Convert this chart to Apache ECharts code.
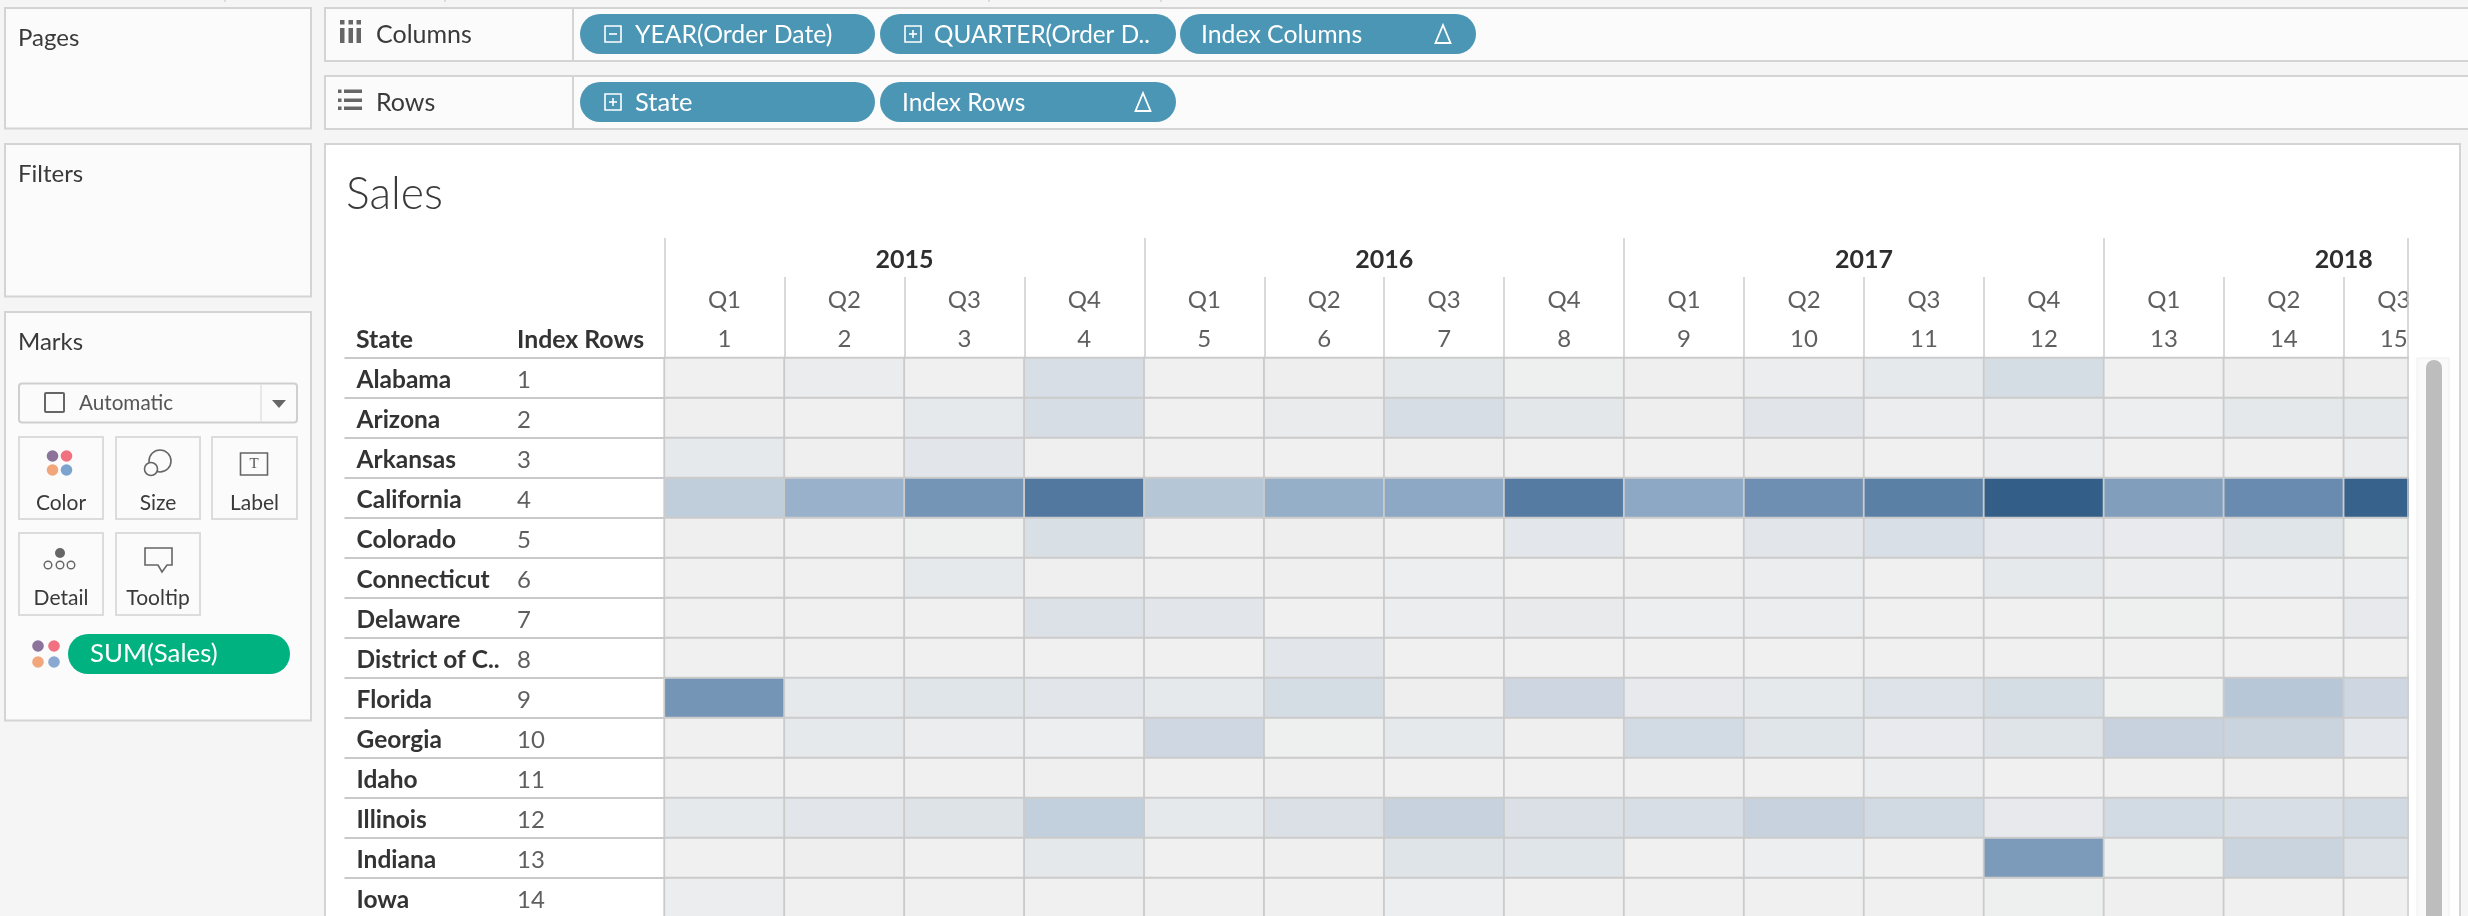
<!DOCTYPE html>
<html><head><meta charset="utf-8">
<style>html,body{margin:0;padding:0;background:#f5f5f5;overflow:hidden;width:2468px;height:916px}#c{width:2600px;height:930px}</style>
<script src="https://cdn.jsdelivr.net/npm/echarts@6/dist/echarts.min.js"></script>
</head><body><div id="c"></div>
<script>
// ---- data (SUM(Sales) per state) ----
const years = ['2015','2016','2017','2018'];
const quarters = ['Q1','Q2','Q3','Q4','Q1','Q2','Q3','Q4','Q1','Q2','Q3','Q4','Q1','Q2','Q3'];
const indexColumns = ['1','2','3','4','5','6','7','8','9','10','11','12','13','14','15'];
const states = ['Alabama','Arizona','Arkansas','California','Colorado','Connecticut','Delaware','District of C..','Florida','Georgia','Idaho','Illinois','Indiana','Iowa'];
const indexRows = ['1','2','3','4','5','6','7','8','9','10','11','12','13','14'];
const alabama     = [150,1700,100,7900,120,800,3600,500,450,1300,3200,8500,100,800,450];
const arizona     = [400,150,3200,8300,120,2300,8400,4200,700,4700,1200,2000,1100,3500,3400];
const arkansas    = [3100,350,4500,300,120,100,350,100,120,800,100,1300,90,80,1900];
const california  = [14500,23500,31000,39000,17000,24000,26000,38000,26000,32500,36500,50000,28500,33500,48500];
const colorado    = [400,120,600,7800,100,700,100,4300,60,4400,7500,3900,2500,5000,650];
const connecticut = [120,100,3200,300,110,350,1000,70,350,1500,60,3200,1500,1000,1000];
const delaware    = [100,120,110,6500,4400,130,1200,2600,1000,1300,90,120,500,130,3000];
const districtOfC = [110,90,120,80,100,4500,130,70,90,110,60,100,80,120,70];
const florida     = [31000,3200,5000,4500,3200,8500,700,11000,3000,3200,6000,9000,650,16500,11000];
const georgia     = [120,3200,1300,1000,10500,650,3200,250,9500,5000,2500,5500,13000,12500,4000];
const idaho       = [90,110,100,280,120,280,90,60,70,60,1300,70,60,350,70];
const illinois    = [3200,4500,5800,14000,3200,7000,13000,7000,8000,13000,10000,3000,9500,8000,10000];
const indiana     = [130,750,110,3500,90,300,5500,5000,60,1000,70,29500,650,12500,6800];
const iowa        = [1500,110,90,100,120,80,1000,60,70,60,50,650,300,70,60];
const stateRows = [alabama,arizona,arkansas,california,colorado,connecticut,delaware,districtOfC,florida,georgia,idaho,illinois,indiana,iowa];
const salesCells = [];
stateRows.forEach((row,r)=>row.forEach((v,c)=>salesCells.push([c,r,v])));

// ---- page chrome ----
const F='Lato, "Open Sans", sans-serif';
const BORDER='#d4d4d4', PANEL='#fbfbfb', PILL='#4b96b4', DARK='#3a3a3a';
const g=[];
const rect=(x,y,w,h,fill,stroke,lw,r,z)=>g.push({type:'rect',silent:true,z:z??-5,shape:{x,y,width:w,height:h,r:r||0},style:{fill:fill||'none',stroke:stroke||null,lineWidth:lw||0}});
const text=(t,x,y,size,fill,opt={})=>g.push({type:'text',silent:true,z:opt.z??-3,x,y,style:{text:t,fill,font:`${opt.weight||'normal'} ${size}px ${opt.family||F}`,align:opt.align||'left',verticalAlign:'middle'}});
const line=(x1,y1,x2,y2,c,w,z)=>g.push({type:'line',silent:true,z:z??-3,shape:{x1,y1,x2,y2},style:{stroke:c,lineWidth:w}});
const circle=(cx,cy,r,fill,stroke,lw,z)=>g.push({type:'circle',silent:true,z:z??-3,shape:{cx,cy,r},style:{fill:fill||'none',stroke:stroke||null,lineWidth:lw||0}});
const poly=(pts,fill,stroke,lw,z)=>g.push({type:'polygon',silent:true,z:z??-3,shape:{points:pts},style:{fill:fill||'none',stroke:stroke||null,lineWidth:lw||0}});

rect(0,0,2600,930,'#f5f5f5',null,0,0,-10);
[225,445,989,1161].forEach(x=>line(x,0,x,2,'#d4d4d4',1.5));
// left cards
rect(5,8,306,120.5,PANEL,BORDER,2);
rect(5,144,306,152.5,PANEL,BORDER,2);
rect(5,312,306,408.5,PANEL,BORDER,2);
text('Pages',18,38,24,DARK);
text('Filters',18,174,24,DARK);
text('Marks',18,342,24,DARK);
// shelves
rect(325,8,2200,53,PANEL,BORDER,2);
rect(325,76,2200,53,PANEL,BORDER,2);
line(573,8,573,61,BORDER,2);
line(573,76,573,129,BORDER,2);
text('Columns',376,35,25,DARK);
text('Rows',376,103,25,DARK);
// columns icon
[342,350.5,358.5].forEach(x=>{rect(x-2,28,4.5,15,'#666',null,0,0,-3);rect(x-2,20,4.5,4.5,'#666',null,0,0,-3);});
// rows icon
[91,100,108].forEach(y=>{rect(338,y-1.5,3.5,3.5,'#666',null,0,0,-3);rect(344,y-1.5,18,3.5,'#666',null,0,0,-3);});
// pills
const pill=(x,w,y,c)=>rect(x,y,w,40,c||PILL,null,0,20,-4);
pill(580,295,14);pill(880,296,14);pill(1180,296,14);
pill(580,295,82);pill(880,296,82);
const pillText=(t,x,y,s)=>text(t,x,y,s||24.8,'#fff');
pillText('YEAR(Order Date)',635,35);
pillText('QUARTER(Order D..',934,35,24.3);
pillText('Index Columns',1201,35);
pillText('State',635,103,25.5);
pillText('Index Rows',902,103,24.5);
const box=(x,cy,plus)=>{rect(x,cy-8,16,16,'none','#fff',1.6,0,-3);line(x+4,cy,x+12,cy,'#fff',1.6);if(plus)line(x+8,cy-4,x+8,cy+4,'#fff',1.6);};
box(605,34,false);box(905,34,true);box(605,102,true);
const delta=(cx,cy)=>poly([[cx,cy-9],[cx-7.5,cy+9],[cx+7.5,cy+9]],'none','#fff',1.8);
delta(1443,34);delta(1143,102);
// marks type dropdown
rect(19,383.5,278,39,'#fbfbfb','#cfcfcf',2,3);
line(261,384,261,422,'#e2e2e2',1.5);
rect(45,393,19,19,'none','#666',2,1,-3);
text('Automatic',79,403.5,20.7,'#555');
poly([[272,400],[286,400],[279,408]],'#666');
// marks buttons
[[19,437,84,82,'Color'],[116,437,84,82,'Size'],[212,437,85,82,'Label'],[19,533,84,82,'Detail'],[116,533,84,82,'Tooltip']].forEach(b=>{
  rect(b[0],b[1],b[2],b[3],'#fbfbfb','#dcdcdc',2);
  text(b[4],b[0]+b[2]/2,b[1]+(b[1]===437?66.5:65.5),21,DARK,{align:'center'});
});
const dotsColors=['#8b739c','#f0717f','#f2a67c','#7ba3cd'];
circle(52.5,456,5.8,dotsColors[0]);circle(66.5,456,5.8,dotsColors[1]);circle(52.5,470,5.8,dotsColors[2]);circle(66.5,470,5.8,dotsColors[3]);
// size icon
circle(160,461,11,'none','#666',1.6);circle(151,469,6.5,'#fbfbfb','#666',1.6);
// label icon
rect(240.5,453,27,22,'none','#666',1.6,0,-3);text('T',254,464,15,'#555',{align:'center',family:'"Liberation Serif",serif'});
// detail icon
circle(60,553,5,'#666');[48,60,71].forEach(x=>circle(x,565,3.8,'none','#666',1.4));
// tooltip icon
poly([[145,548],[172,548],[172,565],[167,565],[162,572],[158,565],[145,565]],'none','#666',1.6);
// colour legend pill
[[38,646,'#8b739c'],[54,646,'#f0717f'],[38,662,'#f2a67c'],[54,662,'#89a9d2']].forEach(d=>circle(d[0],d[1],5.8,d[2]));
rect(68,634,222,40,'#00b280',null,0,20,-4);
text('SUM(Sales)',90,654,25.8,'#fff');
// main sheet
rect(325,144,2135,790,'#ffffff',BORDER,2);
text('Sales',346,195,44.5,DARK,{family:'Lato Light, Lato, sans-serif',weight:'300'});
text('State',356,340,24.8,'#333',{weight:'bold'});
text('Index Rows',517,340,24.8,'#333',{weight:'bold'});
// right clip of the pane + scrollbar (over the chart)
rect(2409,238,50,700,'#ffffff',null,0,0,50);
rect(2461,144,140,790,'#f5f5f5',null,0,0,50);
line(2460,144,2460,930,BORDER,2,51);
line(2408,238,2408,930,'#cdcdcd',1.5,51);
rect(2417,358,32,578,'#fafafa','#eeeeee',1,0,51);
rect(2426,360,16,580,'#bdbdbd',null,0,8,52);

const GRID_L=664.5, COL=119.95, ROW=40, GRID_T=358;
const hdr=(color,weight,size)=>({color,fontFamily:F,fontSize:size||24,fontWeight:weight||'normal'});
const clipFmt=(v,i)=>i===14?`{c|${v}}`:v;
const chart=echarts.init(document.getElementById('c'));
chart.setOption({
  animation:false,
  backgroundColor:'transparent',
  graphic:{elements:g},
  grid:[
    {left:GRID_L,top:GRID_T,width:COL*15,height:ROW*14,containLabel:false},
    {left:GRID_L,top:GRID_T,width:COL*16,height:ROW*14,containLabel:false},
    {left:GRID_L,top:GRID_T+2,width:COL*15,height:ROW*14,containLabel:false}
  ],
  visualMap:{show:false,min:0,max:50000,seriesIndex:0,dimension:2,
    inRange:{color:['#f0f0f0','#c9d4df','#92acc7','#567ca3','#325e88']}},
  xAxis:[
    {type:'category',gridIndex:0,position:'top',data:indexColumns,
     axisLine:{show:false},
     axisTick:{show:true,length:81,lineStyle:{color:'#cdcdcd',width:1.5}},
     axisLabel:{...hdr('#5f5f5f'),interval:0,margin:19,verticalAlign:'middle',formatter:clipFmt,rich:{c:{...hdr('#5f5f5f'),padding:[0,20,0,0]}}},
     splitLine:{show:false}},
    {type:'category',gridIndex:0,position:'top',data:quarters,
     axisLine:{show:false},axisTick:{show:false},
     axisLabel:{...hdr('#5f5f5f'),interval:0,margin:58,verticalAlign:'middle',formatter:clipFmt,rich:{c:{...hdr('#5f5f5f'),padding:[0,20,0,0]}}},
     splitLine:{show:false}},
    {type:'category',gridIndex:1,position:'top',data:years,
     axisLine:{show:false},
     axisTick:{show:true,length:120,lineStyle:{color:'#cdcdcd',width:1.5}},
     axisLabel:{...hdr('#2e2e2e','bold',25),interval:0,margin:98,verticalAlign:'middle'},
     splitLine:{show:false}},
    {type:'category',gridIndex:2,data:indexColumns,show:false}
  ],
  yAxis:[
    {type:'category',gridIndex:0,inverse:true,data:states,
     axisLine:{show:false},
     axisTick:{show:true,length:320,lineStyle:{color:'#c9c9c9',width:2}},
     axisLabel:{show:false},
     splitLine:{show:false}},
    {type:'category',gridIndex:2,inverse:true,data:states,
     axisLine:{show:false},axisTick:{show:false},
     axisLabel:{...hdr('#333','bold',24.5),interval:0,align:'left',margin:308},
     splitLine:{show:false}},
    {type:'category',gridIndex:2,inverse:true,position:'left',data:indexRows,
     axisLine:{show:false},axisTick:{show:false},
     axisLabel:{...hdr('#5f5f5f'),interval:0,align:'left',margin:147.5},
     splitLine:{show:false}},
    {type:'category',gridIndex:1,data:states,show:false}
  ],
  series:[{
    type:'heatmap',xAxisIndex:0,yAxisIndex:0,data:salesCells,
    itemStyle:{borderColor:'#cbcbcb',borderWidth:1.8},
    emphasis:{disabled:true},label:{show:false}
  }]
});
</script></body></html>
